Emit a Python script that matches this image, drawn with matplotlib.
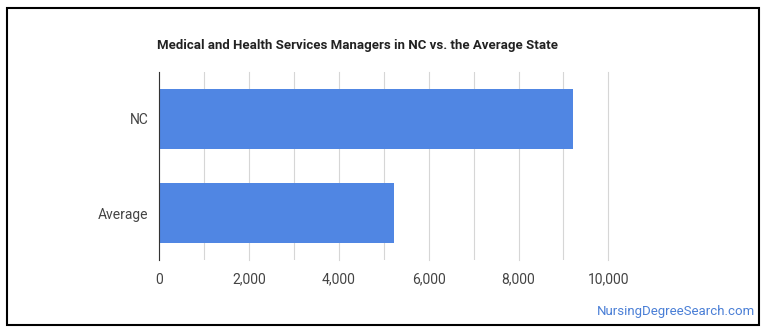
import matplotlib
matplotlib.use("Agg")
import matplotlib.pyplot as plt
from matplotlib.patches import Rectangle
from matplotlib.ticker import FuncFormatter, MultipleLocator

# 数据
categories = ["NC", "Average"]
values = [9220, 5230]
x_ticks = [0, 2000, 4000, 6000, 8000, 10000]

plt.rcParams["font.family"] = ["Roboto", "DejaVu Sans"]

W, H = 770, 335
fig = plt.figure(figsize=(W / 100, H / 100), dpi=100)

# 外框
fig.patches.append(Rectangle((7 / W, 1 - 325 / H), (759 - 7) / W, (325 - 8) / H,
                             transform=fig.transFigure, fill=False,
                             edgecolor="black", linewidth=1.5))

ax = fig.add_axes([159.3 / W, 1 - 260 / H, (608.3 - 159.3) / W, (260 - 72) / H])

ypos = list(range(len(categories)))
ax.barh(ypos, values, height=0.64, color="#5086e3", zorder=2)

ax.set_xlim(0, 10000)
ax.set_ylim(len(categories) - 0.5, -0.5)
ax.set_yticks(ypos)
ax.set_yticklabels(categories)
ax.set_xticks(x_ticks)
ax.xaxis.set_minor_locator(MultipleLocator(1000))
ax.xaxis.set_major_formatter(FuncFormatter(lambda v, p: f"{int(v):,}"))

ax.grid(axis="x", which="both", color="#d6d6d6", linewidth=0.8, zorder=0)
for gl in ax.get_xgridlines():
    gl.set_clip_on(False)
ax.tick_params(axis="both", which="both", length=0, labelsize=10, colors="#444444")
ax.tick_params(axis="x", pad=9)
ax.tick_params(axis="y", pad=8)

for s in ["top", "right", "bottom"]:
    ax.spines[s].set_visible(False)
ax.spines["left"].set_color("#333333")
ax.spines["left"].set_zorder(3)

fig.text(157 / W, 1 - 45 / H, "Medical and Health Services Managers in NC vs. the Average State",
         fontsize=9.5, fontweight="bold", color="#222222", ha="left", va="center")

fig.text(755 / W, 1 - 312 / H, "NursingDegreeSearch.com", fontsize=9.5,
         color="#4a7fd6", ha="right", va="center")

fig.savefig("out.png", dpi=100)
